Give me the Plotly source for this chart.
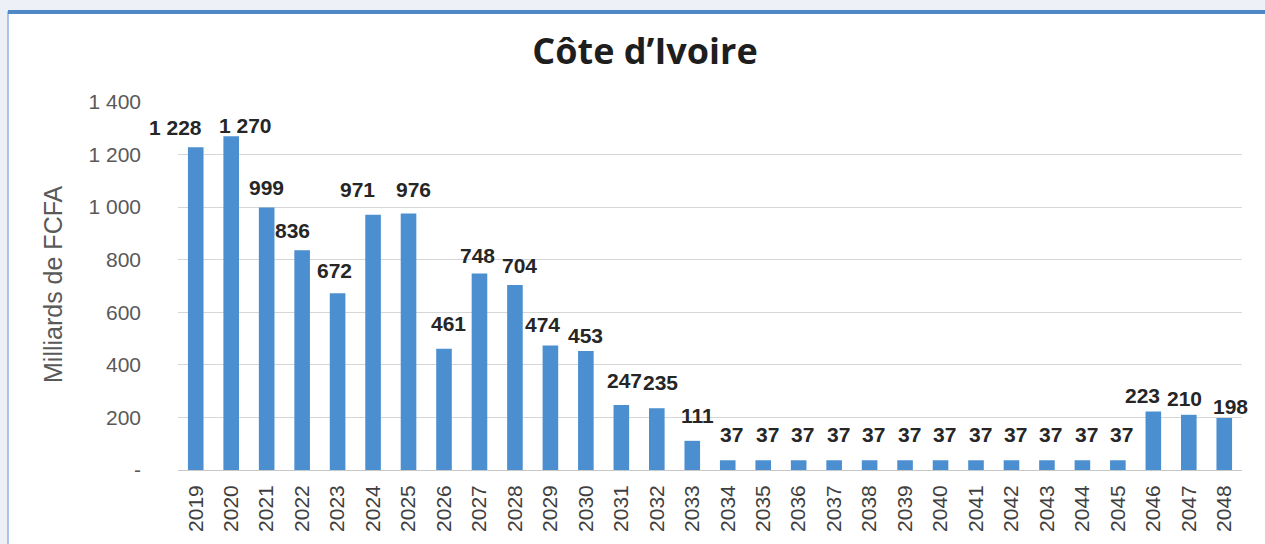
import plotly.graph_objects as go

years = [str(y) for y in range(2019, 2049)]
values = [1228, 1270, 999, 836, 672, 971, 976, 461, 748, 704, 474, 453, 247, 235, 111,
          37, 37, 37, 37, 37, 37, 37, 37, 37, 37, 37, 37, 223, 210, 198]
tick_vals = [0, 200, 400, 600, 800, 1000, 1200, 1400]
tick_text = ["-", "200", "400", "600", "800", "1 000", "1 200", "1 400"]

# label placement tweaks (pixels), as in the reference layout
label_dx = [-20, 14, 0, -10, -3, -16, 5, 4, -2, 5, -8, 0, 3, 4, 5,
            4, 4, 4, 4, 4, 4, 4, 4, 4, 4, 4, 4, -11, -4, 6]
label_dy = [20, 11, 20, 20, 23, 25, 24, 25, 18, 19, 21, 15, 25, 26, 25,
            26, 26, 26, 26, 26, 26, 26, 26, 26, 26, 26, 26, 16, 16, 11]


def fmt(v):
    return f"{v:,}".replace(",", " ")


W, H = 1265, 544
L, R, T, B = 178, 23, 102, 74
pw, ph = W - L - R, H - T - B


def px_x(x):
    return (x - L) / pw


def px_y(y):
    return 1 - (y - T) / ph


fig = go.Figure(go.Bar(
    x=years, y=values,
    marker=dict(color="#4B8FD0", line=dict(width=0)),
    hovertemplate="%{x}: %{y}<extra></extra>",
))

# on a category axis, annotation x is the category index
annotations = [dict(
    x=i, y=v, xref="x", yref="y", text=fmt(v), showarrow=False,
    xanchor="center", yanchor="middle", xshift=dx, yshift=dy,
    font=dict(family="Arial", size=21, color="#262626", weight="bold"),
) for i, (v, dx, dy) in enumerate(zip(values, label_dx, label_dy))]

annotations.append(dict(
    text="Milliards de FCFA", xref="paper", yref="paper",
    x=px_x(53), y=px_y(284), xanchor="center", yanchor="middle",
    textangle=-90, showarrow=False,
    font=dict(family="Arial", size=25, color="#595959"),
))

shapes = [
    dict(type="rect", xref="paper", yref="paper", layer="below",
         x0=px_x(8), x1=px_x(W + 10), y0=px_y(H + 10), y1=px_y(12),
         fillcolor="white", line=dict(color="#8fb3df", width=1.5)),
    dict(type="line", xref="paper", yref="paper", layer="below",
         x0=px_x(8), x1=px_x(W + 10), y0=px_y(12), y1=px_y(12),
         line=dict(color="#4f88c6", width=4)),
]

fig.update_layout(
    width=W, height=H,
    margin=dict(l=L, r=R, t=T, b=B),
    paper_bgcolor="#edf1f7",
    plot_bgcolor="white",
    bargap=0.56,
    showlegend=False,
    shapes=shapes,
    annotations=annotations,
    title=dict(text="<b>Côte d’Ivoire</b>", x=645 / W, xanchor="center",
               y=1 - 51 / H, yanchor="middle",
               font=dict(family="Open Sans", size=36, color="#1e1e1e")),
    xaxis=dict(
        type="category", categoryorder="array", categoryarray=years,
        range=[-0.5, len(years) - 0.5],
        tickangle=-90, tickfont=dict(family="Arial", size=21, color="#404040"),
        showgrid=False, showline=False, ticks="", ticklabelstandoff=10,
    ),
    yaxis=dict(
        range=[0, 1400], tickvals=tick_vals, ticktext=tick_text,
        tickfont=dict(family="Arial", size=21, color="#595959"),
        showgrid=True, gridcolor="#d6d6d6", gridwidth=1,
        zeroline=True, zerolinecolor="#c8c8c8", zerolinewidth=1,
        showline=False, ticks="", ticklabelstandoff=36,
    ),
)

fig.write_html("out.html", config={"displayModeBar": False},
               post_script="document.body.style.margin='0';")
